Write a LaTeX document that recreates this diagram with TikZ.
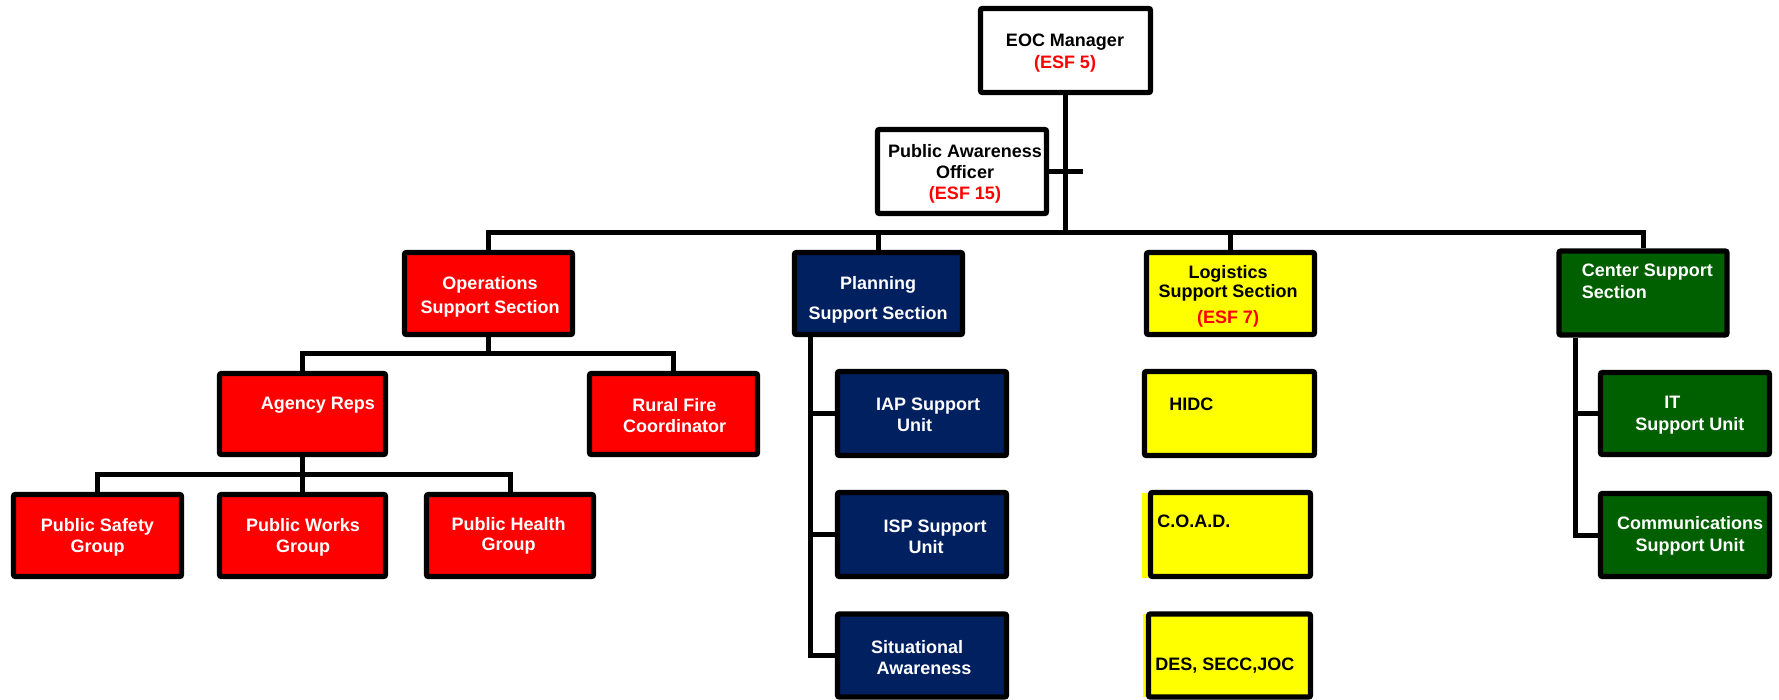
\documentclass[tikz,border=0pt]{standalone}
\usepackage{fontspec}
\setmainfont{Liberation Sans}
\begin{document}
\begin{tikzpicture}[x=0.75pt,y=-0.75pt,
  box/.style 2 args={draw=black, line width=4pt, rounded corners=1.5pt, inner sep=0pt,
    minimum width=#1*0.75pt, minimum height=#2*0.75pt},
  link/.style={draw=black, line width=3.75pt},
  txt/.style={font=\bfseries\fontsize{13.5}{16}\selectfont, inner sep=0pt, align=center}]
  \definecolor{kRed}{RGB}{255,0,0}
  \definecolor{kNavy}{RGB}{0,32,96}
  \definecolor{kYellow}{RGB}{255,255,0}
  \definecolor{kGreen}{RGB}{0,96,0}
  \definecolor{kEsf}{RGB}{255,0,0}

  \useasboundingbox (0,0) rectangle (1779,700);

  % boxes
  \node[box={170}{84}, fill=white] (eoc) at (1065.5,50.5) {};
  \node[box={169}{84}, fill=white] (pao) at (962,171.5) {};
  \node[box={168}{82}, fill=kRed] (ops) at (488.5,293.5) {};
  \node[box={168}{82}, fill=kNavy] (plan) at (878.5,293.5) {};
  \node[box={168}{82}, fill=kYellow] (log) at (1230.5,293.5) {};
  \node[box={168}{84}, fill=kGreen] (csec) at (1643,293) {};

  \node[box={166}{81}, fill=kRed] (agency) at (302.5,414) {};
  \node[box={168}{81}, fill=kRed] (rural) at (673.5,414) {};
  \node[box={168}{82}, fill=kRed] (psafe) at (97.5,535.5) {};
  \node[box={166}{82}, fill=kRed] (pworks) at (302.5,535.5) {};
  \node[box={167}{82}, fill=kRed] (phealth) at (510,535.5) {};

  \node[box={169}{84}, fill=kNavy] (iap) at (922,413.5) {};
  \node[box={169}{84}, fill=kNavy] (isp) at (922,534.5) {};
  \node[box={169}{83}, fill=kNavy] (sitaw) at (922,655.5) {};

  \fill[kYellow] (1142,493) rectangle (1150,578);
  \fill[kYellow] (1143,614) rectangle (1149,697);
  \node[box={170}{84}, fill=kYellow] (hidc) at (1229.5,413.5) {};
  \node[box={160}{84}, fill=kYellow] (coad) at (1230.5,534.5) {};
  \node[box={162}{83}, fill=kYellow] (des) at (1229.5,655.5) {};

  \node[box={169}{82}, fill=kGreen] (it) at (1685,413.5) {};
  \node[box={169}{83}, fill=kGreen] (comms) at (1685,535) {};

  % connectors
  \coordinate (topbus) at (0,232);
  \coordinate (opsbus) at (0,353);
  \coordinate (agbus) at (0,474);
  \coordinate (planspine) at (810,0);
  \coordinate (cspine) at (1575,0);
  \coordinate (paotick) at (1083,0);

  \draw[link] (eoc.south) -- (eoc.south |- topbus);
  \draw[link] (pao.east) -- (pao.east -| paotick);
  \draw[link] (ops.north) -- (ops.north |- topbus) -| (csec.north);
  \draw[link] (plan.north) -- (plan.north |- topbus);
  \draw[link] (log.north) -- (log.north |- topbus);

  \draw[link] (ops.south) -- (ops.south |- opsbus);
  \draw[link] (agency.north) -- (agency.north |- opsbus) -| (rural.north);
  \draw[link] (agency.south) -- (agency.south |- agbus);
  \draw[link] (psafe.north) -- (psafe.north |- agbus) -| (phealth.north);
  \draw[link] (pworks.north) -- (pworks.north |- agbus);

  \draw[link] (plan.south -| planspine) |- (sitaw.west);
  \draw[link] (iap.west) -- (iap.west -| planspine);
  \draw[link] (isp.west) -- (isp.west -| planspine);

  \draw[link] (csec.south -| cspine) |- (comms.west);
  \draw[link] (it.west) -- (it.west -| cspine);

  % texts
  \node[txt, font=\bfseries\fontsize{13.5}{16.5}\selectfont] (eoc-t) at (1065,53.5)
    {EOC Manager\\\textcolor{kEsf}{(ESF 5)}};
  \node[txt] (pao-t) at (965,174) {Public Awareness\\Officer\\\textcolor{kEsf}{(ESF 15)}};
  \node[txt, text=white, font=\bfseries\fontsize{13.5}{18}\selectfont] (ops-t) at (490,296.5)
    {Operations\\Support Section};
  \node[txt, text=white, font=\bfseries\fontsize{13.5}{22.5}\selectfont] (plan-t) at (878,299.5)
    {Planning\\Support Section};
  \node[txt, font=\bfseries\fontsize{13.5}{14.25}\selectfont] (log-t) at (1228,296)
    {Logistics\\Support Section\\[5.25pt]\textcolor{kEsf}{(ESF 7)}};
  \node[txt, text=white, anchor=west, align=left, font=\bfseries\fontsize{13.5}{16.5}\selectfont]
    (csec-t) at (1581.5,281.5) {Center Support\\Section};

  \node[txt, text=white] (agency-t) at (318,405.5) {Agency Reps};
  \node[txt, text=white, font=\bfseries\fontsize{13.5}{15.75}\selectfont] (rural-t) at (674.5,416)
    {Rural Fire\\Coordinator};
  \node[txt, text=white, font=\bfseries\fontsize{13.5}{15.75}\selectfont] (psafe-t) at (97.5,537)
    {Public Safety\\Group};
  \node[txt, text=white, font=\bfseries\fontsize{13.5}{15.75}\selectfont] (pworks-t) at (303,537)
    {Public Works\\Group};
  \node[txt, text=white, font=\bfseries\fontsize{13.5}{15}\selectfont] (phealth-t) at (508.7,535.5)
    {Public Health\\Group};

  \node[txt, text=white, font=\bfseries\fontsize{13.5}{15.75}\selectfont] (iap-t) at (928,415)
    {IAP Support\\Unit\hspace*{20pt}};
  \node[txt, text=white, font=\bfseries\fontsize{13.5}{15.75}\selectfont] (isp-t) at (935,537)
    {ISP Support\\Unit\hspace*{13.5pt}};
  \node[txt, text=white, font=\bfseries\fontsize{13.5}{15.75}\selectfont] (sitaw-t) at (924,658)
    {Situational\hspace*{10.5pt}\\Awareness};

  \node[txt, anchor=west] (hidc-t) at (1169,404) {HIDC};
  \node[txt, anchor=west] (coad-t) at (1157,521) {C.O.A.D.};
  \node[txt, anchor=west] (des-t) at (1155,666) {DES, SECC,JOC};

  \node[txt, text=white, anchor=west, align=left, font=\bfseries\fontsize{13.5}{16.5}\selectfont]
    (it-t) at (1635,415.5) {\hspace*{21.75pt}IT\\Support Unit};
  \node[txt, text=white, font=\bfseries\fontsize{13.5}{16.5}\selectfont] (comms-t) at (1690,535.5)
    {Communications\\Support Unit};
\end{tikzpicture}
\end{document}
